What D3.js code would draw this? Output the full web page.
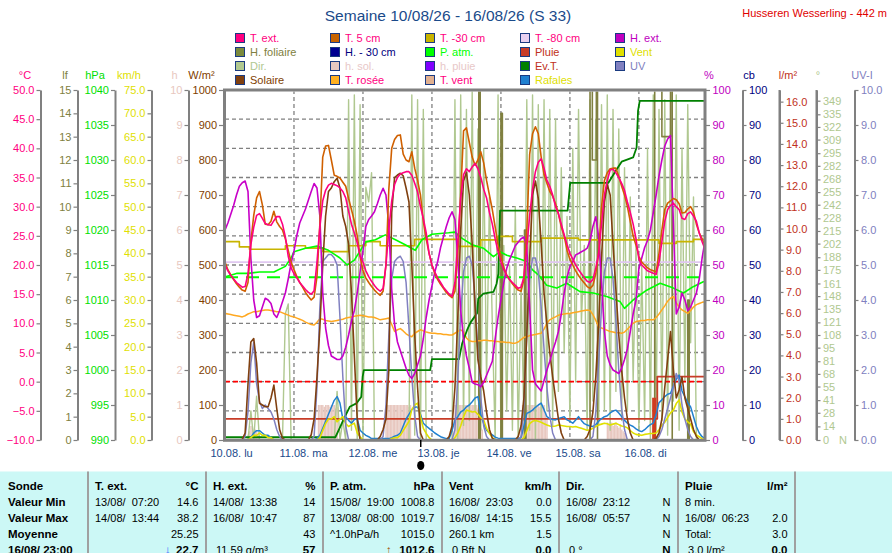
<!DOCTYPE html>
<html>
<head>
<meta charset="utf-8">
<script src="https://cdn.jsdelivr.net/npm/d3@7"></script>
<style>
body { margin: 0; background: #fff; }
text { font-family: "Liberation Sans", Arial, sans-serif; }
</style>
</head>
<body>
<div id="graph"></div>
<script>
// Weekly weather station chart, 10/08 - 16/08 (S 33)
// Hourly series are indexed by hour since 10.08 00:00 (0..167).

var dayTicks = [0, 24, 48, 72, 96, 120, 144];
var dayLabels = ["10.08. lu", "11.08. ma", "12.08. me", "13.08. je", "14.08. ve", "15.08. sa", "16.08. di"];
var markerHour = 68.1;

// T. ext. (°C)
var tExt = [
	20.0,19.0,18.2,17.6,17.0,16.6,16.2,16.3,18.5,23.5,26.5,28.5,28.8,28.0,27.1,26.9,26.8,27.6,28.3,28.3,27.0,24.8,21.5,19.5,
	18.5,17.8,17.0,16.4,15.8,15.3,15.0,15.6,20.5,26.5,31.0,32.8,33.7,34.0,33.8,33.6,33.2,32.6,31.5,29.2,27.0,25.5,23.8,21.5,
	20.5,19.0,18.0,17.2,16.5,15.9,15.5,16.0,20.0,26.0,31.0,33.8,35.0,35.6,35.8,36.0,36.0,35.4,34.0,32.5,30.0,28.0,25.5,22.0,
	20.0,18.8,17.8,17.0,16.2,15.6,15.0,14.6,17.0,24.0,31.5,35.5,36.5,36.0,36.8,37.4,36.5,35.0,33.0,31.5,29.0,27.0,24.5,22.3,
	20.5,19.2,18.2,17.5,17.0,16.5,16.0,16.2,18.0,23.0,28.5,33.0,36.0,37.6,38.2,36.6,34.5,33.5,32.0,30.0,28.8,27.0,25.2,23.5,
	22.0,21.0,20.0,19.2,18.5,17.8,17.2,17.0,17.5,19.5,22.0,27.0,32.0,34.5,36.3,36.4,35.8,35.0,34.0,32.8,30.8,29.0,27.0,24.5,
	21.0,20.0,19.5,19.0,18.8,18.6,18.4,20.5,24.0,27.5,29.5,30.2,30.6,30.0,29.5,28.0,27.8,28.8,29.1,28.4,27.5,25.5,24.0,22.7
];

// T. 5 cm (°C)
var t5cm = [
	20.5,19.2,18.3,17.5,16.8,16.2,15.7,15.5,17.0,24.0,28.5,31.5,32.6,30.3,27.0,26.9,27.5,29.2,27.4,26.6,26.0,24.5,22.5,20.5,
	19.2,18.0,17.0,16.2,15.3,14.6,14.0,14.5,18.0,27.0,38.5,40.4,40.5,38.0,35.4,35.2,34.9,34.2,33.5,31.4,29.5,27.5,25.0,21.5,
	19.0,17.8,17.0,16.3,15.7,15.2,14.8,15.5,20.0,33.0,40.0,41.5,42.2,42.3,39.0,38.0,37.7,39.4,36.6,34.5,32.0,27.5,24.5,22.0,
	20.0,18.5,17.5,16.7,16.0,15.3,14.8,14.4,15.5,22.0,32.0,43.0,43.5,41.0,38.5,37.1,38.0,39.4,37.5,34.5,32.0,29.5,26.5,23.5,
	21.5,19.5,18.3,17.5,16.8,16.2,15.7,15.5,17.5,26.0,39.0,42.5,43.7,42.5,38.5,35.5,34.0,32.6,31.8,30.5,28.8,26.5,25.0,22.5,
	21.0,20.0,19.0,18.2,17.5,16.9,16.3,16.0,16.5,18.5,22.0,30.0,34.5,35.8,36.5,36.6,36.6,35.2,33.5,32.0,30.0,27.5,25.0,23.4,
	21.5,20.5,20.0,19.5,19.2,19.0,18.8,22.0,26.0,29.5,30.6,31.0,31.4,31.2,30.5,28.9,29.0,29.6,30.0,29.1,27.0,25.5,24.5,23.4
];

// T. rosée (°C)
var tDew = [
	11.7,11.6,11.5,11.4,11.3,11.2,11.1,11.3,11.6,11.8,12.0,12.0,12.1,12.2,12.3,12.3,12.2,12.1,12.0,12.0,11.8,11.6,11.4,11.2,
	11.1,10.9,10.7,10.5,10.2,10.0,9.8,9.7,10.2,10.8,10.7,10.5,10.4,10.3,10.4,10.5,10.6,10.7,10.9,11.0,11.1,11.2,11.3,11.4,
	11.3,11.2,11.1,11.1,11.0,10.8,10.6,10.7,10.8,10.9,9.8,8.6,8.9,9.1,8.7,8.2,7.9,7.7,8.3,8.6,8.9,8.7,8.5,8.4,
	8.3,8.3,8.2,8.2,8.1,8.1,8.0,8.0,8.3,8.6,8.9,8.5,7.5,7.0,6.9,6.9,7.0,7.0,7.1,7.1,7.0,7.0,6.9,6.9,
	6.8,6.8,6.7,6.7,6.6,6.6,6.8,7.2,7.6,7.7,7.9,8.0,8.1,8.2,8.3,9.0,10.0,10.6,10.9,11.1,11.4,11.5,11.6,11.7,
	11.7,11.8,11.9,12.0,12.1,12.2,12.3,12.2,11.5,10.5,9.4,9.2,9.0,8.8,8.6,8.5,8.4,8.4,8.3,8.5,9.0,9.5,10.0,10.3,
	10.4,10.5,10.5,10.6,10.6,10.6,11.0,11.6,12.3,13.0,13.8,14.3,14.6,13.5,12.8,12.3,12.0,11.7,12.2,12.8,13.2,13.4,13.6,13.7
];

// H. ext. (%)
var hExt = [
	60,62,64.5,67,70,72.5,73.5,74,71,52,40,35,35.5,38,40.5,40,39,36,35,37,39.5,42,46,50.5,
	54,58.5,62,64,66,68.5,71,73.3,72,64,42,32,27,24,23.5,23,23,24,26.5,30,34,37,42,48,
	54,61,63,64,65.2,67.5,70,71.9,70,61,43,33,28,25.5,23,20.5,18.5,17.6,19,21.5,24,29,35,40,
	44,48,51,55,58,61,63.5,65.2,63,52,37,29,24,20.5,16.5,16,15.8,15.2,16.5,18.5,20.5,22.5,29,35,
	40,45,49,51.5,53.5,55.5,56.5,57.5,58,55,38,20,16,15,14,17,20,22.5,25.5,28,31,36,42,46.5,
	49.5,51,52.9,53.3,53.8,54.2,54.8,57,61,63.8,58,45,31,24,21.5,20,19.5,19,20.5,23,26,31,36,40,
	49,52,55,57,60,65,70,75.5,80,84,86,87,62,36,38,42,40,37,38,40,42,46,52,57
];

// Solaire (W/m²)
var solar = [
	0,0,0,0,0,0,2,20,160,280,290,220,105,100,95,95,120,157,90,30,5,0,0,0,
	0,0,0,0,0,0,15,60,180,320,500,640,710,720,738,748,720,640,610,560,420,240,60,0,
	0,0,0,0,0,0,10,30,60,200,650,750,757,762,755,720,680,500,300,150,20,0,0,0,
	0,0,0,0,0,0,10,40,150,350,600,740,765,700,560,380,230,180,140,80,30,5,0,0,
	0,0,0,0,0,0,10,40,120,300,520,700,740,690,560,420,330,250,180,120,60,20,0,0,
	0,0,0,0,0,0,10,30,80,180,330,520,680,730,700,560,430,300,200,120,60,20,0,0,
	0,0,0,0,0,0,5,20,60,150,230,310,200,120,143,180,120,90,60,30,10,0,0,0
];

// UV index
var uvIndex = [
	0,0,0,0,0,0,0,0.1,0.8,2.2,2.8,1.6,1.1,0.9,1.0,0.9,0.8,0.6,0.3,0.1,0,0,0,0,
	0,0,0,0,0,0,0,0.1,1.5,3.8,5.1,5.2,5.3,5.3,5.2,5.0,3.5,1.8,0.4,0,0,0,0,0,
	0,0,0,0,0,0,0,0.1,1.0,3.0,4.6,5.1,5.2,5.25,5.1,4.5,3.2,1.8,0.7,0.1,0,0,0,0,
	0,0,0,0,0,0,0,0,0.3,1.8,3.6,4.8,5.2,5.25,5.0,4.0,2.5,1.2,0.4,0.1,0,0,0,0,
	0,0,0,0,0,0,0,0.1,1.0,3.0,4.6,5.2,5.2,4.8,3.8,2.6,1.5,0.7,0.2,0,0,0,0,0,
	0,0,0,0,0,0,0,0,0.1,0.8,2.2,3.8,4.8,5.2,5.2,4.6,3.4,2.0,0.9,0.3,0,0,0,0,
	0,0,0,0,0,0,0,0.1,0.3,0.6,0.9,1.2,1.5,1.9,1.7,1.0,0.6,0.3,0.1,0,0,0,0,0
];

// Vent (km/h)
var wind = [
	0,0,0,0,0,0,0,0,0,0.5,1,1,1.5,1,1,0.5,0.5,0,0,0,0,0,0,0,
	0,0,0,0,0,0,0,0,0,0.5,2,3.5,4.5,4.5,5,3.9,4.5,5,3.5,2.9,3.3,3.6,1.5,0.7,
	0,0,0,0,0,0,0,0,0,0,0.3,0.5,0.5,1,2,3,4,6.5,7.5,7.9,5,2.5,1.4,0.5,
	0,0,0,0,0,0,0,0,0.5,1.5,3,5,6.4,6.2,6.0,6.1,5.5,4.8,4.3,2.5,1.4,0.5,0,0,
	0,0,0,0,0,0,0,0,0.5,2,3.5,4,4.2,4,3.8,3.5,3.2,3,2.9,3,3.2,3.1,3,2.9,
	2.9,2.8,2.9,2.7,2.5,2.3,2.1,2.2,2.5,2.9,3.2,3.4,3.6,3.5,3.2,3.4,3.6,3.3,3.0,2.9,2.6,2.0,1.5,1.2,
	1.1,1.0,1.2,1.3,1.4,1.4,1.5,2.2,3.2,3.8,4.8,5.8,6.4,7.8,8.6,6.0,4.5,3.9,3.4,1.8,1.1,0.7,0.3,0
];

// Rafales (km/h)
var gusts = [
	0,0,0,0,0,0,0,0,0,0.5,1.5,2,2,1.5,1,1,0.5,0,0,0,0,0,0,0,
	0,0,0,0,0,0,0,0,0.3,1,2.5,4,5.5,7,8.5,9.3,7.9,4.5,5.0,4.2,3.6,4.4,4.6,2.1,
	1.5,1.0,0.7,0.3,0.3,0.3,0.3,0.3,0.3,0.3,0.5,0.8,1.0,1.5,3.0,4.5,5.5,6.5,7.0,7.1,5.5,3.6,3.0,2.5,
	2.0,1.5,1.1,0.7,0.5,0.3,0.3,2.0,4.3,5.0,6.0,6.4,7.1,7.5,8.2,9.0,9.3,5.4,3.5,2.1,1.5,1.1,0.6,0.4,
	0.3,0.3,0.3,0.3,0.3,0.3,0.3,0.5,3.0,5.7,6.0,6.4,7.0,7.5,7.9,6.5,5.0,4.6,4.4,4.3,4.6,4.8,5.0,4.3,
	4.0,3.6,4.3,5.0,4.2,3.5,3.2,3.0,2.9,3.3,4.0,4.6,5.0,5.2,5.8,6.2,6.4,5.8,5.0,4.2,3.6,3.2,2.9,2.4,
	2.0,1.8,2.2,2.8,3.3,3.6,5.5,8.0,8.6,9.3,9.8,10.0,11.5,13.0,13.9,10.5,9.3,8.0,7.1,5.0,2.9,1.5,0.7,0.3
];

// Dir. (°)
var windDir = [
	0,0,0,0,0,0,0,0,0,30,0,45,0,0,0,0,0,0,0,0,0,130,140,0,
	0,0,0,0,0,0,0,0,0,0,0,0,0,0,0,50,0,20,0,350,10,355,0,345,
	0,260,245,275,0,0,0,0,0,0,0,0,0,0,0,0,0,355,5,350,0,340,0,0,
	0,0,0,0,0,0,0,0,350,0,355,15,340,20,360,30,320,10,300,60,250,120,0,355,
	0,200,30,180,10,240,0,160,20,350,10,355,0,345,20,350,30,340,15,330,50,280,90,230,
	20,300,60,340,120,200,10,350,40,330,15,345,30,355,10,340,50,320,20,280,30,250,60,200,
	10,180,20,300,0,355,10,340,20,350,5,330,40,355,10,300,60,345,100,250,0,0,0,0
];

// P. atm. (hPa)
var pressTimes = [0,4,8,12,17,21,23,24,28,32,36,40,42.5,45,47,49,52.3,55.8,59.3,62.7,66.2,68.5,72,77.8,80,82.5,86,89.9,93.4,95.7,98,101.5,105,107,109,111.9,115.4,118.9,123.5,128.1,132.8,137.4,139,142,146.7,151.4,156,159.5,162.9,166.4,167];
var pressValues = [1013.3,1013.8,1013.8,1014,1014,1014.8,1016,1016.9,1017.4,1017.7,1017.1,1016,1015,1015.7,1017,1018.3,1018.6,1019.3,1018.6,1017.9,1017.1,1018.6,1019.4,1019.6,1019.7,1018.8,1017.9,1017.4,1016.2,1016.9,1016.4,1016,1015.5,1014.3,1013.6,1012.1,1011.7,1012.4,1011.2,1011,1010.5,1009.8,1008.8,1010,1011.4,1012.4,1011.7,1011,1011.9,1012.6,1012.6];
var pressRef = 1013.25;

// T. -30 cm and T. -80 cm (°C)
var t30Times = [0,5,8.5,21,28,34,43,49,54,66,81,89,95,100,110,123,151,157,163,167];
var t30Values = [24.0,23.1,22.7,23.3,22.9,22.3,23.3,24.0,23.3,24.4,23.2,24.3,24.9,24.0,24.6,24.3,23.7,24.0,24.4,24.4];
var t80Times = [0, 167];
var t80Values = [20.5, 20.5];

// Ev.T. (l/m², cumulative)
var etTimes = [0,38.4,40,41.7,43.4,45.7,47.4,47.9,48.3,71.4,72,81.4,82.5,84.2,85.4,87.7,88.1,89.9,93.4,94.5,95.1,95.7,119.2,120.1,133.4,136.3,138,142,143.2,143.7,144.3,167];
var etValues = [0.13,0.13,0.6,1.1,1.57,1.73,2.04,3.0,3.3,3.3,3.82,3.82,4.56,5.19,5.55,6.0,6.68,6.92,7.0,7.39,7.86,10.85,10.85,12.16,12.16,12.8,13.16,13.36,13.83,15.56,16.04,16.04];

// Pluie (l/m²): cumulative and hourly
var rainTimes = [0, 0, 150.4, 150.4, 167];
var rainValues = [0, 1.0, 1.0, 3.0, 3.0];
var rainBarTimes = [150];
var rainBarValues = [2.0];

// H. foliaire (0..15)
var leafTimes = [0,88.3,88.3,88.8,88.8,96.0,96.0,96.5,96.5,104.2,104.2,104.7,104.7,127,127,127.8,127.8,129.2,129.2,129.6,129.6,149.5,149.5,152,152,155,155,155.6,155.6,161,161,161.5,161.5,167];
var leafValues = [0,0,15,15,0,0,14,14,0,0,9,9,0,0,15,15,12,12,15,15,0,0,15,15,13,13,15,15,0,0,6,6,0,0];

// h. sol. (hours of sunshine, half-hourly bars)
var sunTimes = [
	8,8.5,9,9.5,10,10.5,11,11.5,
	32.5,33,33.5,34,34.5,35,35.5,36,36.5,37,37.5,38,38.5,39,
	56,56.5,57,57.5,58,58.5,59,59.5,60,60.5,61,61.5,62,62.5,63,63.5,64,64.5,
	80,80.5,81,81.5,82,82.5,83,83.5,84,84.5,85,85.5,86,86.5,87,87.5,88,88.5,89,89.5,
	103.5,104,104.5,105,105.5,106,106.5,107,107.5,108,108.5,109,109.5,110,110.5,111,111.5,112,
	133,133.5,134,134.5,135,135.5,136,136.5,137,137.5,138,138.5,139,139.5
];
var sunValues = [
	0.15,0.25,0.4,0.35,0.2,0.3,0.25,0.15,
	1,1,1,1,0.95,1,1,1,0.95,1,1,1,0.9,0.95,
	1,1,1,1,1,1,1,1,1,1,1,1,1,1,1,1,0.95,1,
	1,1,1,1,1,1,1,1,1,1,1,1,1,1,1,1,0.9,0.4,0.35,0.3,
	1,1,1,1,1,1,1,1,1,1,1,1,0.95,0.9,1,1,0.8,0.6,
	0.5,0.45,0.5,0.5,0.4,0.45,0.5,0.4,0.35,0.45,0.3,0.25,0.2,0.15
];

// Axis ticks
var tempTicks = [-10,-5,0,5,10,15,20,25,30,35,40,45,50];
var leafTicks = [0,1,2,3,4,5,6,7,8,9,10,11,12,13,14,15];
var hpaTicks = [990,995,1000,1005,1010,1015,1020,1025,1030,1035,1040];
var kmhTicks = [0,5,10,15,20,25,30,35,40,45,50,55,60,65,70,75];
var hourTicks = [0,1,2,3,4,5,6,7,8,9,10];
var solarTicks = [0,100,200,300,400,500,600,700,800,900,1000];
var pctTicks = [0,10,20,30,40,50,60,70,80,90,100];
var rainTicks = [0,1,2,3,4,5,6,7,8,9,10,11,12,13,14,15,16];
var dirTicks = [0,14,28,41,55,68,81,95,108,121,135,148,161,175,188,202,215,228,242,255,268,282,295,309,322,335,349];
var uvTicks = [0,1,2,3,4,5,6,7,8,9,10];

// Legend
var legendNames = ["T. ext.","T. 5 cm","T. -30 cm","T. -80 cm","H. ext.",
	"H. foliaire","H. - 30 cm","P. atm.","Pluie","Vent",
	"Dir.","h. sol.","h. pluie","Ev.T.","UV",
	"Solaire","T. rosée","T. vent","Rafales"];
var legendBoxColors = ["#ff0080","#c86400","#c8b400","#e8d0f0","#c000c0",
	"#7a8a3c","#000090","#00ff00","#c83c28","#e0e000",
	"#b0c890","#e8c8c0","#8000ff","#008000","#8080c0",
	"#804010","#ffb020","#e0b090","#2080d0"];
var legendTextColors = ["#ff0080","#ff0080","#ff0080","#ff0080","#c000c0",
	"#808040","#000080","#00ff00","#c03020","#e0e000",
	"#b0c890","#e8c8c8","#e8c8c8","#c03020","#8080c0",
	"#804000","#ff0080","#ff0080","#e0e000"];

// Table
var rowLabels = ["Sonde", "Valeur Min", "Valeur Max", "Moyenne", "16/08/ 23:00"];
var colTitles = ["T. ext.", "H. ext.", "P. atm.", "Vent", "Dir.", "Pluie"];
var colUnits = ["°C", "%", "hPa", "km/h", "", "l/m²"];
var cellLeft = [
	["13/08/  07:20", "14/08/  13:44", "", ""],
	["14/08/  13:38", "16/08/  10:47", "", " 11.59 g/m³"],
	["15/08/  19:00", "13/08/  08:00", "^1.0hPa/h", ""],
	["16/08/  23:03", "16/08/  14:15", "260.1 km", " 0 Bft N"],
	["16/08/  23:12", "16/08/  05:57", "", " 0 °"],
	["8 min.", "16/08/  06:23", "Total:", " 3.0 l/m²"]
];
var cellRight = [
	["14.6", "38.2", "25.25", "22.7"],
	["14", "87", "43", "57"],
	["1008.8", "1019.7", "1015.0", "1012.6"],
	["0.0", "15.5", "1.5", "0.0"],
	["N", "N", "N", "N"],
	["", "2.0", "3.0", "0.0"]
];
var trendArrows = ["↓", "", "↑", "", "", ""];

var hours = d3.range(168);

var svg = d3.select("#graph").append("svg")
	.attr("width", 892)
	.attr("height", 553);

// Scales
var x = d3.scaleLinear().domain([0, 167]).range([225, 705]);
var yTemp = d3.scaleLinear().domain([-10, 50]).range([440, 90]);
var yLeaf = d3.scaleLinear().domain([0, 15]).range([440, 90]);
var yHpa = d3.scaleLinear().domain([990, 1040]).range([440, 90]);
var yKmh = d3.scaleLinear().domain([0, 75]).range([440, 90]);
var yHour = d3.scaleLinear().domain([0, 10]).range([440, 90]);
var ySolar = d3.scaleLinear().domain([0, 1000]).range([440, 90]);
var yPct = d3.scaleLinear().domain([0, 100]).range([440, 90]);
var yCb = d3.scaleLinear().domain([0, 100]).range([440, 90]);
var yRain = d3.scaleLinear().domain([0, 16.55]).range([440, 90]);
var yDir = d3.scaleLinear().domain([0, 360]).range([440, 90]);
var yUv = d3.scaleLinear().domain([0, 10]).range([440, 90]);

// Title
svg.append("text")
	.attr("x", 448).attr("y", 21)
	.attr("text-anchor", "middle")
	.style("font-size", "15.5px")
	.style("fill", "#1a4a8a")
	.text("Semaine 10/08/26 - 16/08/26 (S 33)");

svg.append("text")
	.attr("x", 887).attr("y", 17)
	.attr("text-anchor", "end")
	.style("font-size", "11px")
	.style("fill", "#e00000")
	.text("Husseren Wesserling - 442 m");

// Legend
legendNames.forEach(function(name, i) {
	var col = i % 5, row = Math.floor(i / 5);
	svg.append("rect")
		.attr("x", 235.5 + col * 95).attr("y", 33.5 + row * 14)
		.attr("width", 9).attr("height", 9)
		.attr("fill", legendBoxColors[i])
		.attr("stroke", "#1a3a80");
	svg.append("text")
		.attr("x", 250 + col * 95).attr("y", 42 + row * 14)
		.style("font-size", "11px")
		.style("fill", legendTextColors[i])
		.text(name);
});

// Plot area
svg.append("clipPath").attr("id", "plotclip")
	.append("rect").attr("x", 226).attr("y", 91.5).attr("width", 478).attr("height", 347.5);
var plot = svg.append("g").attr("clip-path", "url(#plotclip)");

// Grid
plot.selectAll(".hgrid")
	.data(tempTicks.slice(1, -1))
	.enter().append("line")
	.attr("x1", 225).attr("x2", 705)
	.attr("y1", function(d) { return yTemp(d); })
	.attr("y2", function(d) { return yTemp(d); })
	.attr("stroke", "#808080").attr("stroke-width", 1.3)
	.attr("stroke-dasharray", "4,3");
plot.selectAll(".vgrid")
	.data(dayTicks.slice(1))
	.enter().append("line")
	.attr("x1", function(d) { return x(d); })
	.attr("x2", function(d) { return x(d); })
	.attr("y1", 90).attr("y2", 440)
	.attr("stroke", "#808080").attr("stroke-width", 1.3)
	.attr("stroke-dasharray", "4,3");

// Sunshine bars
plot.selectAll(".sun")
	.data(sunValues)
	.enter().append("rect")
	.attr("x", function(d, i) { return x(sunTimes[i]) - 0.6; })
	.attr("width", 1.4)
	.attr("y", function(d) { return yHour(d); })
	.attr("height", function(d) { return 440 - yHour(d); })
	.attr("fill", "#e8c8c0");

function draw_series(values, scale, color, times, width, curve) {
	var line = d3.line()
		.x(function(d, i) { return x(times ? times[i] : hours[i]); })
		.y(function(d) { return scale(d); })
		.curve(curve || d3.curveLinear);
	return plot.append("path")
		.attr("fill", "none")
		.attr("stroke", color)
		.attr("stroke-width", width || 1.6)
		.attr("stroke-linejoin", "round")
		.attr("d", line(values));
}

draw_series(windDir, yDir, "#b0c890", null, 1.4);
draw_series(leafValues, yLeaf, "#808040", leafTimes, 1.6);
draw_series(t80Values, yTemp, "#e0c8f0", t80Times, 1.8);
draw_series(t30Values, yTemp, "#c8b400", t30Times, 1.6, d3.curveStepAfter);

// Standard pressure reference
plot.append("line")
	.attr("x1", 225).attr("x2", 705)
	.attr("y1", yHpa(pressRef)).attr("y2", yHpa(pressRef))
	.attr("stroke", "#00ff00").attr("stroke-width", 2)
	.attr("stroke-dasharray", "13,8");
draw_series(pressValues, yHpa, "#00ff00", pressTimes, 1.6);
draw_series(tDew, yTemp, "#ffa820", null, 1.5);
draw_series(etValues, yRain, "#008000", etTimes, 1.8);
draw_series(rainValues, yRain, "#c83c28", rainTimes, 1.8);

plot.selectAll(".rainbar")
	.data(rainBarValues)
	.enter().append("rect")
	.attr("x", function(d, i) { return x(rainBarTimes[i]) - 4; })
	.attr("width", 4)
	.attr("y", function(d) { return yRain(d); })
	.attr("height", function(d) { return 440 - yRain(d); })
	.attr("fill", "#d03c20");

// Frost line
plot.append("line")
	.attr("x1", 225).attr("x2", 705)
	.attr("y1", yTemp(0)).attr("y2", yTemp(0))
	.attr("stroke", "#ff0000").attr("stroke-width", 1.8)
	.attr("stroke-dasharray", "5,3");

draw_series(gusts, yKmh, "#2080d0", null, 1.5);
draw_series(wind, yKmh, "#e0e000", null, 1.6);
draw_series(uvIndex, yUv, "#8080c0", null, 1.5);
draw_series(solar, ySolar, "#804010", null, 1.6);
draw_series(hExt, yPct, "#c800c8", null, 1.6);
draw_series(t5cm, yTemp, "#d06000", null, 1.6);
draw_series(tExt, yTemp, "#ff0080", null, 1.6);

// Plot border
svg.append("rect")
	.attr("x", 224.5).attr("y", 90)
	.attr("width", 480.5).attr("height", 350.3)
	.attr("fill", "none")
	.attr("stroke", "#808080").attr("stroke-width", 3);

// Axes
function style_axis(g, color, hideDomain) {
	g.attr("font-family", "Liberation Sans, Arial, sans-serif").attr("font-size", 11);
	g.select(".domain").attr("stroke", hideDomain ? "none" : "#808080").attr("stroke-width", 2);
	g.selectAll(".tick line").attr("stroke", "#808080").attr("stroke-width", 1.2);
	g.selectAll(".tick text").attr("fill", color);
}

function axis_left(xpos, scale, ticks, fmt, color, hideDomain) {
	var g = svg.append("g")
		.attr("transform", "translate(" + xpos + ",0)")
		.call(d3.axisLeft(scale).tickValues(ticks).tickFormat(fmt)
			.tickSize(4).tickSizeOuter(0).tickPadding(2));
	style_axis(g, color, hideDomain);
}

function axis_right(xpos, scale, ticks, fmt, color, hideDomain) {
	var g = svg.append("g")
		.attr("transform", "translate(" + xpos + ",0)")
		.call(d3.axisRight(scale).tickValues(ticks).tickFormat(fmt)
			.tickSize(4).tickSizeOuter(0).tickPadding(2.5));
	style_axis(g, color, hideDomain);
}

var f1 = d3.format(".1f"), f0 = d3.format("d");
axis_left(40.5, yTemp, tempTicks, f1, "#ff0080");
axis_left(77.5, yLeaf, leafTicks, f0, "#808040");
axis_left(115, yHpa, hpaTicks, f0, "#00e000");
axis_left(151.5, yKmh, kmhTicks, f1, "#e0e000");
axis_left(188.5, yHour, hourTicks, f0, "#e8c8c0");
axis_left(223, ySolar, solarTicks, f0, "#804000", true);
axis_right(706, yPct, pctTicks, f0, "#c000c0", true);
axis_right(742.5, yCb, pctTicks, f0, "#000080");
axis_right(779.5, yRain, rainTicks, f1, "#c03020");
axis_right(816.5, yDir, dirTicks, f0, "#b0c890");
axis_right(854.5, yUv, uvTicks, f1, "#8080c0");

// Extend right axis lines to full height (l/m² and ° axes stop below top otherwise)
[779.5, 816.5].forEach(function(xp) {
	svg.append("line").attr("x1", xp).attr("x2", xp).attr("y1", 90).attr("y2", 440)
		.attr("stroke", "#808080").attr("stroke-width", 2);
});

svg.append("text").attr("x", 843).attr("y", 444)
	.attr("text-anchor", "middle")
	.style("font-size", "11px").style("fill", "#b0c890").text("N");

// Unit labels
var unitLabels = ["°C", "lf", "hPa", "km/h", "h", "W/m²", "%", "cb", "l/m²", "°", "UV-I"];
var unitColors = ["#ff0080", "#808040", "#00e000", "#e0e000", "#e8c8c0", "#804000", "#c000c0", "#000080", "#c03020", "#b0c890", "#8080c0"];
var unitX = [25, 65, 95, 129, 174.5, 201.5, 709, 749, 788, 818, 862];
unitLabels.forEach(function(u, i) {
	svg.append("text")
		.attr("x", unitX[i]).attr("y", 79)
		.attr("text-anchor", "middle")
		.style("font-size", "11px")
		.style("fill", unitColors[i])
		.text(u);
});

// Time axis
var xAxis = svg.append("g")
	.attr("transform", "translate(0,440)")
	.call(d3.axisBottom(x).tickValues(dayTicks)
		.tickFormat(function(d, i) { return dayLabels[i]; })
		.tickSize(0).tickPadding(9));
xAxis.select(".domain").remove();
xAxis.attr("font-family", "Liberation Sans, Arial, sans-serif").attr("font-size", 11);
xAxis.selectAll("text")
	.attr("text-anchor", "start")
	.attr("dx", -15)
	.attr("fill", "#1a4a8a")
	.style("white-space", "pre");

svg.append("line")
	.attr("x1", x(markerHour)).attr("x2", x(markerHour))
	.attr("y1", 440).attr("y2", 447)
	.attr("stroke", "#000").attr("stroke-width", 1.5);
svg.append("ellipse")
	.attr("cx", x(markerHour)).attr("cy", 465.5)
	.attr("rx", 3.6).attr("ry", 4.6)
	.attr("fill", "#000");

// Summary table
var sep = [88, 206, 323, 442, 559, 678, 795];
var rowY = [490, 506, 522, 538, 554];
svg.append("rect")
	.attr("x", 0).attr("y", 471.5)
	.attr("width", 892).attr("height", 82)
	.attr("fill", "#ccf8f6");
sep.forEach(function(s) {
	svg.append("line")
		.attr("x1", s).attr("x2", s).attr("y1", 471.5).attr("y2", 553)
		.attr("stroke", "#a0a0a0").attr("stroke-width", 2);
});

function table_text(xp, yp, txt, anchor, bold, color) {
	svg.append("text")
		.attr("x", xp).attr("y", yp)
		.attr("text-anchor", anchor || "start")
		.style("font-size", bold ? "11.5px" : "11px")
		.style("font-weight", bold ? "bold" : "normal")
		.style("fill", color || "#000")
		.style("white-space", "pre")
		.text(txt);
}

rowLabels.forEach(function(r, i) { table_text(8, rowY[i], r, "start", true); });
colTitles.forEach(function(t, c) {
	var left = sep[c] + 7, right = sep[c + 1] - 7.5;
	table_text(left, rowY[0], t, "start", true);
	if (colUnits[c]) table_text(right, rowY[0], colUnits[c], "end", true);
	for (var r = 0; r < 4; r++) {
		if (cellLeft[c][r]) table_text(left, rowY[r + 1], cellLeft[c][r], "start", false);
		if (cellRight[c][r]) table_text(right, rowY[r + 1], cellRight[c][r], "end", r === 3);
	}
});
table_text(165, rowY[4], trendArrows[0], "start", true, "#2050ff");
table_text(386, rowY[4], trendArrows[2], "start", true, "#a05000");
</script>
</body>
</html>
